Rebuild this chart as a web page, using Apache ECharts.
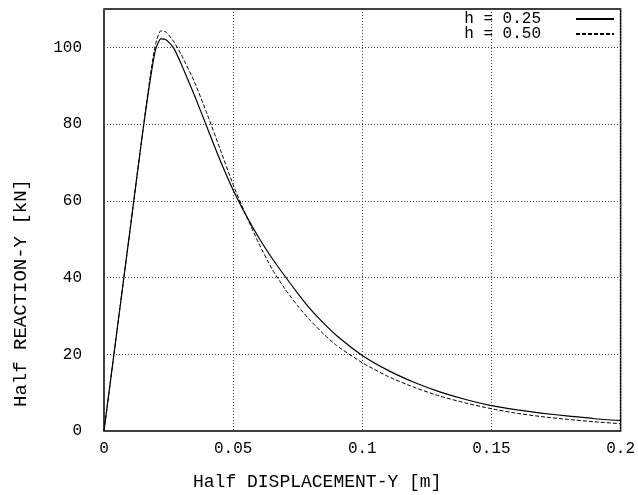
<!DOCTYPE html>
<html>
<head>
<meta charset="utf-8">
<script src="https://cdn.jsdelivr.net/npm/echarts@6/dist/echarts.min.js"></script>
<style>
  html, body { margin: 0; padding: 0; background: #fff; }
  #chart { width: 638px; height: 495px; }
</style>
</head>
<body>
<div id="chart"></div>
<script>
// 位移 (m)
const dispY = [0, 0.005, 0.01, 0.015, 0.018, 0.02, 0.022, 0.024, 0.027, 0.03, 0.035, 0.04,
    0.045, 0.05, 0.055, 0.06, 0.065, 0.07, 0.075, 0.08, 0.085, 0.09, 0.1, 0.11, 0.12, 0.13,
    0.14, 0.15, 0.16, 0.17, 0.18, 0.19, 0.2];
// h = 0.25
const reactH025 = [0, 26, 52, 78, 92, 99.5, 102.2, 102.0, 99.8, 95.5, 87.5, 79.0,
    70.5, 62.8, 56.2, 50.3, 45.1, 40.4, 35.9, 31.7, 28.1, 24.9, 19.7, 15.8, 12.7, 10.2,
    8.2, 6.6, 5.5, 4.6, 3.9, 3.2, 2.75];
// h = 0.50
const reactH050 = [0, 26, 52, 78, 93, 101, 104.3, 104.0, 101.5, 98, 91, 82.5,
    73.4, 64.2, 56.2, 48.8, 42.3, 37.1, 32.6, 28.7, 25.3, 22.3, 17.8, 14.2, 11.4, 9.1,
    7.3, 5.8, 4.6, 3.7, 3.0, 2.4, 1.9];
const seriesNames = ['h = 0.25', 'h = 0.50'];

const FONT = 'Liberation Mono';

const chart = echarts.init(document.getElementById('chart'));

function toPairs(ys) {
    return dispY.map((x, i) => [x, ys[i]]);
}

const gridLine = {
    show: true,
    lineStyle: { color: '#444', type: [1, 2], width: 1 }
};

const option = {
    animation: false,
    backgroundColor: '#fff',
    grid: {
        left: 104, right: 6, top: 9, bottom: 64,
        show: true, borderColor: '#000', borderWidth: 1.5
    },
    legend: {
        orient: 'vertical',
        right: 18,
        top: 6,
        align: 'right',
        itemWidth: 38,
        itemHeight: 8,
        itemGap: -1,
        data: seriesNames,
        itemStyle: { opacity: 0 },
        textStyle: { fontFamily: FONT, fontSize: 16, color: '#000', lineHeight: 12, padding: [0, 30, 0, 0] }
    },
    xAxis: {
        type: 'value',
        min: 0, max: 0.2, interval: 0.05,
        axisLine: { show: false },
        axisTick: { show: false },
        splitLine: gridLine,
        axisLabel: { fontFamily: FONT, fontSize: 16, color: '#000', margin: 10 }
    },
    yAxis: {
        type: 'value',
        min: 0, max: 110, interval: 20,
        axisLine: { show: false },
        axisTick: { show: false },
        splitLine: gridLine,
        axisLabel: { fontFamily: FONT, fontSize: 16, color: '#000', margin: 22, showMaxLabel: false }
    },
    graphic: [
        {
            type: 'text', left: 193, top: 473,
            style: { text: 'Half DISPLACEMENT-Y [m]', font: '18px "Liberation Mono"', fill: '#000' }
        },
        {
            type: 'text', x: 21, y: 293, rotation: Math.PI / 2,
            style: {
                text: 'Half REACTION-Y [kN]', font: '19px "Liberation Mono"', fill: '#000',
                align: 'center', verticalAlign: 'middle'
            }
        }
    ],
    series: [
        {
            name: seriesNames[0],
            type: 'line',
            data: toPairs(reactH025),
            symbol: 'none',
            smooth: 0.2,
            lineStyle: { color: '#000', width: 1.2, type: 'solid' },
            itemStyle: { color: '#000' }
        },
        {
            name: seriesNames[1],
            type: 'line',
            data: toPairs(reactH050),
            symbol: 'none',
            smooth: 0.2,
            lineStyle: { color: '#000', width: 1, type: [4, 2] },
            itemStyle: { color: '#000' }
        }
    ]
};

chart.setOption(option);
</script>
</body>
</html>
